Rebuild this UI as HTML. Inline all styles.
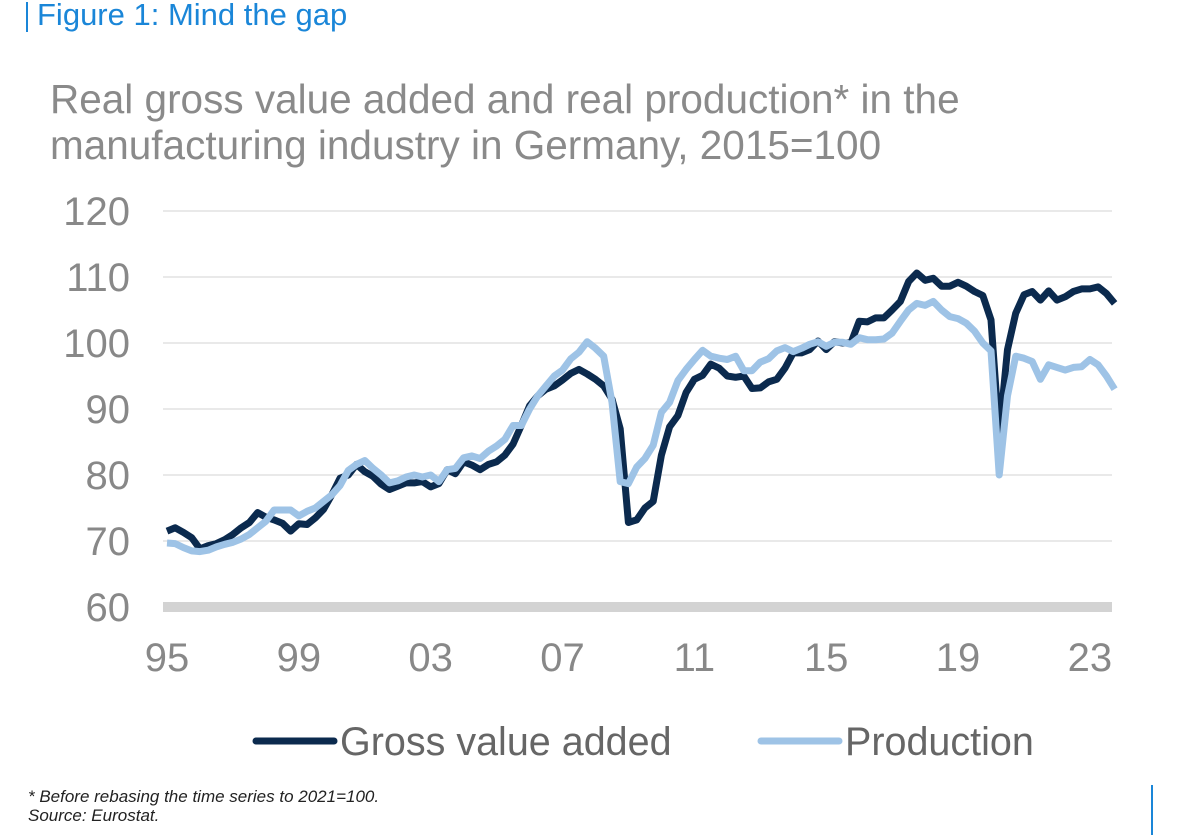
<!DOCTYPE html>
<html><head><meta charset="utf-8"><style>
body{margin:0;background:#fff;width:1179px;height:835px;overflow:hidden;font-family:"Liberation Sans",sans-serif}
</style></head><body>
<svg width="1179" height="835" xmlns="http://www.w3.org/2000/svg">
<line x1="27" y1="2" x2="27" y2="32" stroke="#1a86d8" stroke-width="2"/>
<text x="37" y="25" font-size="31" fill="#1a86d8">Figure 1: Mind the gap</text>
<text x="50" y="113" font-size="40.5" fill="#8a8a8a">Real gross value added and real production* in the</text>
<text x="50" y="159" font-size="40.5" fill="#8a8a8a">manufacturing industry in Germany, 2015=100</text>
<g id="grid"></g><g id="ylab"></g><g id="xlab"></g><g id="lines"></g>
<line x1="256" y1="741" x2="334" y2="741" stroke="#0b2a4e" stroke-width="7" stroke-linecap="round"/>
<text x="340" y="755" font-size="39.5" fill="#666">Gross value added</text>
<line x1="761" y1="741" x2="839" y2="741" stroke="#9ec3e6" stroke-width="7" stroke-linecap="round"/>
<text x="845" y="755" font-size="39.5" fill="#666">Production</text>
<text x="28" y="802" font-size="17" font-style="italic" fill="#222">* Before rebasing the time series to 2021=100.</text>
<text x="28" y="821" font-size="17" font-style="italic" fill="#222">Source: Eurostat.</text>
<line x1="1152" y1="785" x2="1152" y2="835" stroke="#1a86d8" stroke-width="2"/>
</svg>
<script>
const yTicks=[60,70,80,90,100,110,120];
const xTickLabels=["95","99","03","07","11","15","19","23"];
const xTickYears=[1995,1999,2003,2007,2011,2015,2019,2023];
const gva=[71.5,72,71.3,70.5,68.8,69.3,69.6,70.2,71,72,72.8,74.3,73.6,73.2,72.7,71.5,72.6,72.5,73.5,74.8,77,79.5,80,81.6,80.5,79.8,78.6,77.8,78.3,78.8,78.8,79,78.2,78.7,80.8,80.2,82,81.5,80.8,81.6,82,83,84.7,87.5,90.5,92,93,93.5,94.4,95.4,96,95.3,94.5,93.5,91.5,87,72.8,73.2,75,76,83,87.3,89,92.5,94.5,95.1,96.8,96.2,95,94.8,95,93.1,93.2,94.1,94.5,96.2,98.5,98.5,99,100.3,99,100.2,100,100,103.3,103.2,103.8,103.8,105,106.3,109.3,110.6,109.5,109.8,108.6,108.6,109.2,108.6,107.8,107.2,103.5,86,99,104.5,107.3,107.8,106.5,107.9,106.5,107,107.8,108.2,108.2,108.5,107.5,106];
const production=[69.7,69.6,69,68.5,68.4,68.6,69.1,69.5,69.8,70.3,71,72,73,74.7,74.7,74.7,73.8,74.5,75,76,77,78.4,80.7,81.6,82.2,81,80,78.8,79.1,79.7,80,79.7,80,79,80.8,81,82.6,82.9,82.5,83.6,84.4,85.4,87.5,87.5,90,92,93.5,95,95.9,97.6,98.6,100.2,99.2,98,91,79,78.7,81.2,82.5,84.5,89.5,91,94.3,96,97.5,98.9,98,97.7,97.5,98,95.8,95.8,97.1,97.6,98.8,99.3,98.7,99.2,99.8,100.2,99.5,100.1,100.1,99.8,100.8,100.5,100.5,100.6,101.5,103.3,105,106,105.7,106.3,105,104,103.7,103,101.8,100,98.8,80,92,98,97.7,97.2,94.5,96.7,96.3,95.9,96.3,96.4,97.5,96.7,95,93];
const startYear=1995;
const NS="http://www.w3.org/2000/svg";
const y=v=>607-(v-60)*6.6;
const x=t=>167+(t-1995)*32.96;
function mk(tag,attrs,parent){const e=document.createElementNS(NS,tag);for(const k in attrs)e.setAttribute(k,attrs[k]);document.getElementById(parent).appendChild(e);return e;}
yTicks.forEach(v=>{
  if(v>60){const g=mk('line',{x1:163,x2:1112,y1:y(v),y2:y(v),stroke:'#dcdcdc','stroke-width':1.2},'grid');
  
  }
  const t=mk('text',{x:130,y:y(v)+14,'font-size':40,fill:'#888','text-anchor':'end'},'ylab');t.textContent=v;
  
  
});
const base=mk('line',{x1:163,x2:1112,y1:y(60),y2:y(60),stroke:'#d3d3d3','stroke-width':10},'grid');


xTickLabels.forEach((l,i)=>{const t=mk('text',{x:x(xTickYears[i]),y:671,'font-size':40,fill:'#888','text-anchor':'middle'},'xlab');t.textContent=l;
  
  });
function series(arr,color,name){
  const pts=arr.map((v,i)=>x(startYear+i/4).toFixed(1)+','+y(v).toFixed(1)).join(' ');
  const p=mk('polyline',{points:pts,fill:'none',stroke:color,'stroke-width':7,'stroke-linejoin':'round'},'lines');
  
  
}
series(gva,'#0b2a4e','gva-line');
series(production,'#9ec3e6','production-line');
</script>
</body></html>
